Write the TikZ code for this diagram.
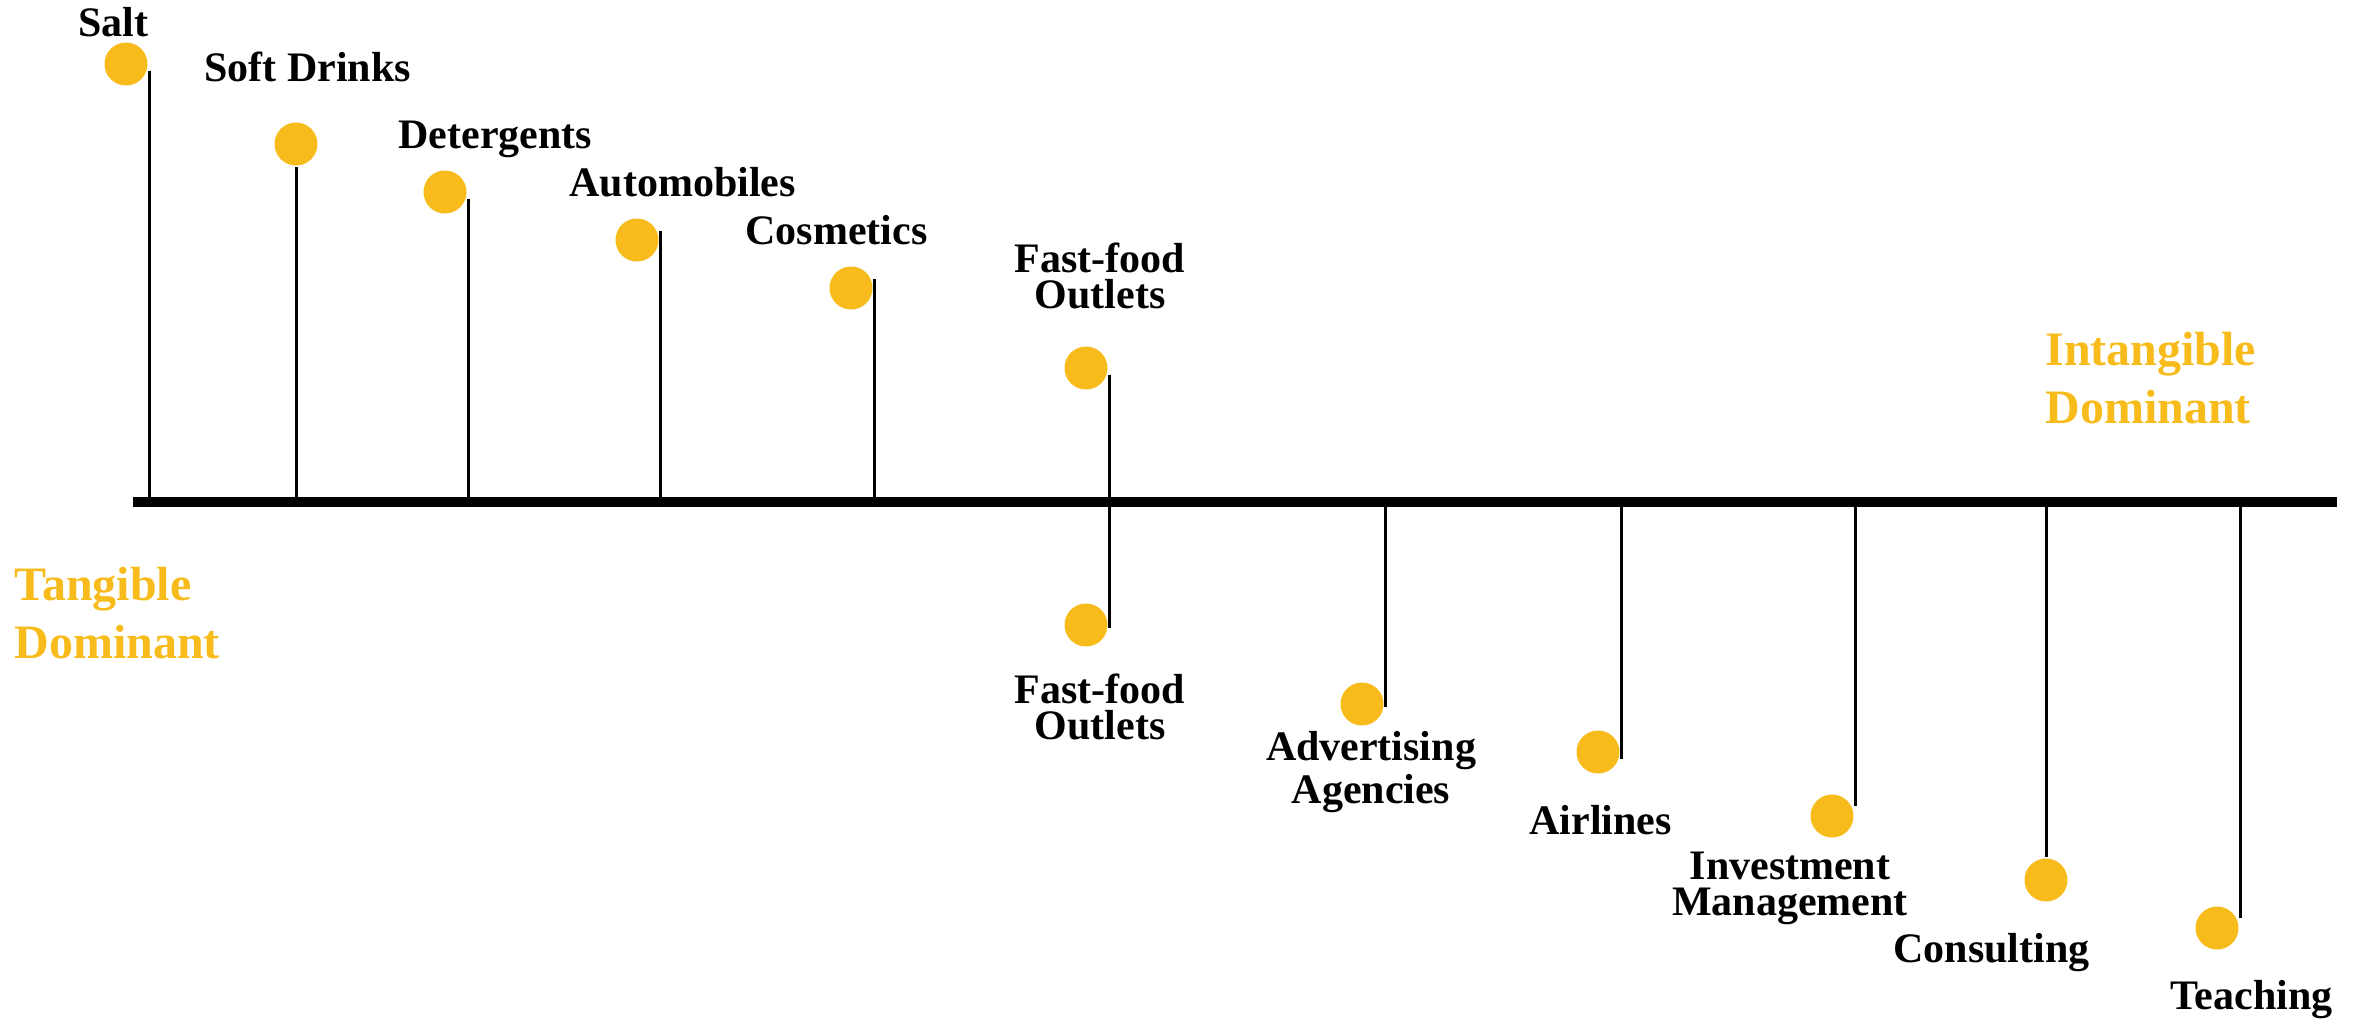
\documentclass[tikz,border=0pt]{standalone}
\usepackage{fontspec}
\setmainfont{Liberation Serif}
\definecolor{dotyellow}{RGB}{247,188,27}

\tikzset{every picture/.style={line width=0.75pt}}
\tikzset{
  dot/.style={circle,fill=dotyellow,inner sep=0pt,minimum size=10.75pt},
  lbl/.style={font=\fontsize{10.5}{9}\selectfont\bfseries,inner sep=0pt},
  endlbl/.style={font=\fontsize{12}{14.5}\selectfont\bfseries,text=dotyellow,inner sep=0pt,align=left},
  stem/.style={line width=0.75pt},
  axisline/.style={line width=2.5pt}
}

\begin{document}
\begin{tikzpicture}[x=0.25pt,y=0.25pt,yscale=-1,xscale=1]
\useasboundingbox (0,0) rectangle (2357,1021);

% Axis ends
\coordinate (axl) at (133,502);
\coordinate (axr) at (2337,502);

%Shape: Circle
\node [dot] (salt) at (126,64) {};
%Shape: Circle
\node [dot] (soft) at (296,144) {};
%Shape: Circle
\node [dot] (deter) at (445,192) {};
%Shape: Circle
\node [dot] (auto) at (637,240) {};
%Shape: Circle
\node [dot] (cosm) at (851,288) {};
%Shape: Circle
\node [dot] (fastup) at (1086,368) {};
%Shape: Circle
\node [dot] (fastdn) at (1086,625) {};
%Shape: Circle
\node [dot] (advert) at (1362,704) {};
%Shape: Circle
\node [dot] (air) at (1598,752) {};
%Shape: Circle
\node [dot] (invest) at (1832,816) {};
%Shape: Circle
\node [dot] (consult) at (2046,880) {};
%Shape: Circle
\node [dot] (teach) at (2217,928) {};

%Straight Lines
\draw [stem] ([yshift=1.75pt]salt.east) -- (salt.east |- axl);
%Straight Lines
\draw [stem] (soft.south) -- (soft.south |- axl);
%Straight Lines
\draw [stem] ([yshift=1.75pt]deter.east) -- (deter.east |- axl);
%Straight Lines
\draw [stem] ([yshift=-2.25pt]auto.east) -- (auto.east |- axl);
%Straight Lines
\draw [stem] ([yshift=-2.25pt]cosm.east) -- (cosm.east |- axl);
%Straight Lines
\draw [stem] ([yshift=1.75pt]fastup.east) -- ([yshift=0.75pt]fastdn.east);
%Straight Lines
\draw [stem] (advert.east |- axl) -- ([yshift=0.75pt]advert.east);
%Straight Lines
\draw [stem] (air.east |- axl) -- ([yshift=1.75pt]air.east);
%Straight Lines
\draw [stem] (invest.east |- axl) -- ([yshift=-2.5pt]invest.east);
%Straight Lines
\draw [stem] (consult.north |- axl) -- (consult.north);
%Straight Lines
\draw [stem] (teach.east |- axl) -- ([yshift=-2.5pt]teach.east);

%Straight Lines
\draw [axisline] (axl) -- (axr);

% Text Node
\node [lbl, anchor=base west] (tsalt) at (77,36) {Salt};
% Text Node
\node [lbl, anchor=base west] (tsoft) at (203,81) {Soft Drinks};
% Text Node
\node [lbl, anchor=base west] (tdeter) at (397,148) {Detergents};
% Text Node
\node [lbl, anchor=base west] (tauto) at (568,196) {Automobiles};
% Text Node
\node [lbl, anchor=base west] (tcosm) at (744,244) {Cosmetics};
% Text Node
\node [lbl, anchor=base, align=center] (tfastup) at (1100,308) {Fast-food\\Outlets};
% Text Node
\node [lbl, anchor=base, align=center] (tfastdn) at (1100,739) {Fast-food\\Outlets};
% Text Node
\node [lbl, anchor=base, align=center] (tadvert) at (1371,803) {Advertising\\Agencies};
% Text Node
\node [lbl, anchor=base west] (tair) at (1528,834) {Airlines};
% Text Node
\node [lbl, anchor=base, align=center] (tinvest) at (1790,915) {Investment\\Management};
% Text Node
\node [lbl, anchor=base west] (tconsult) at (1892,962) {Consulting};
% Text Node
\node [lbl, anchor=base west] (tteach) at (2169,1009) {Teaching};
% Text Node
\node [endlbl, anchor=base west] (ttang) at (13,658) {Tangible\\Dominant};
% Text Node
\node [endlbl, anchor=base west] (tintang) at (2044,423) {Intangible\\Dominant};

\end{tikzpicture}
\end{document}
